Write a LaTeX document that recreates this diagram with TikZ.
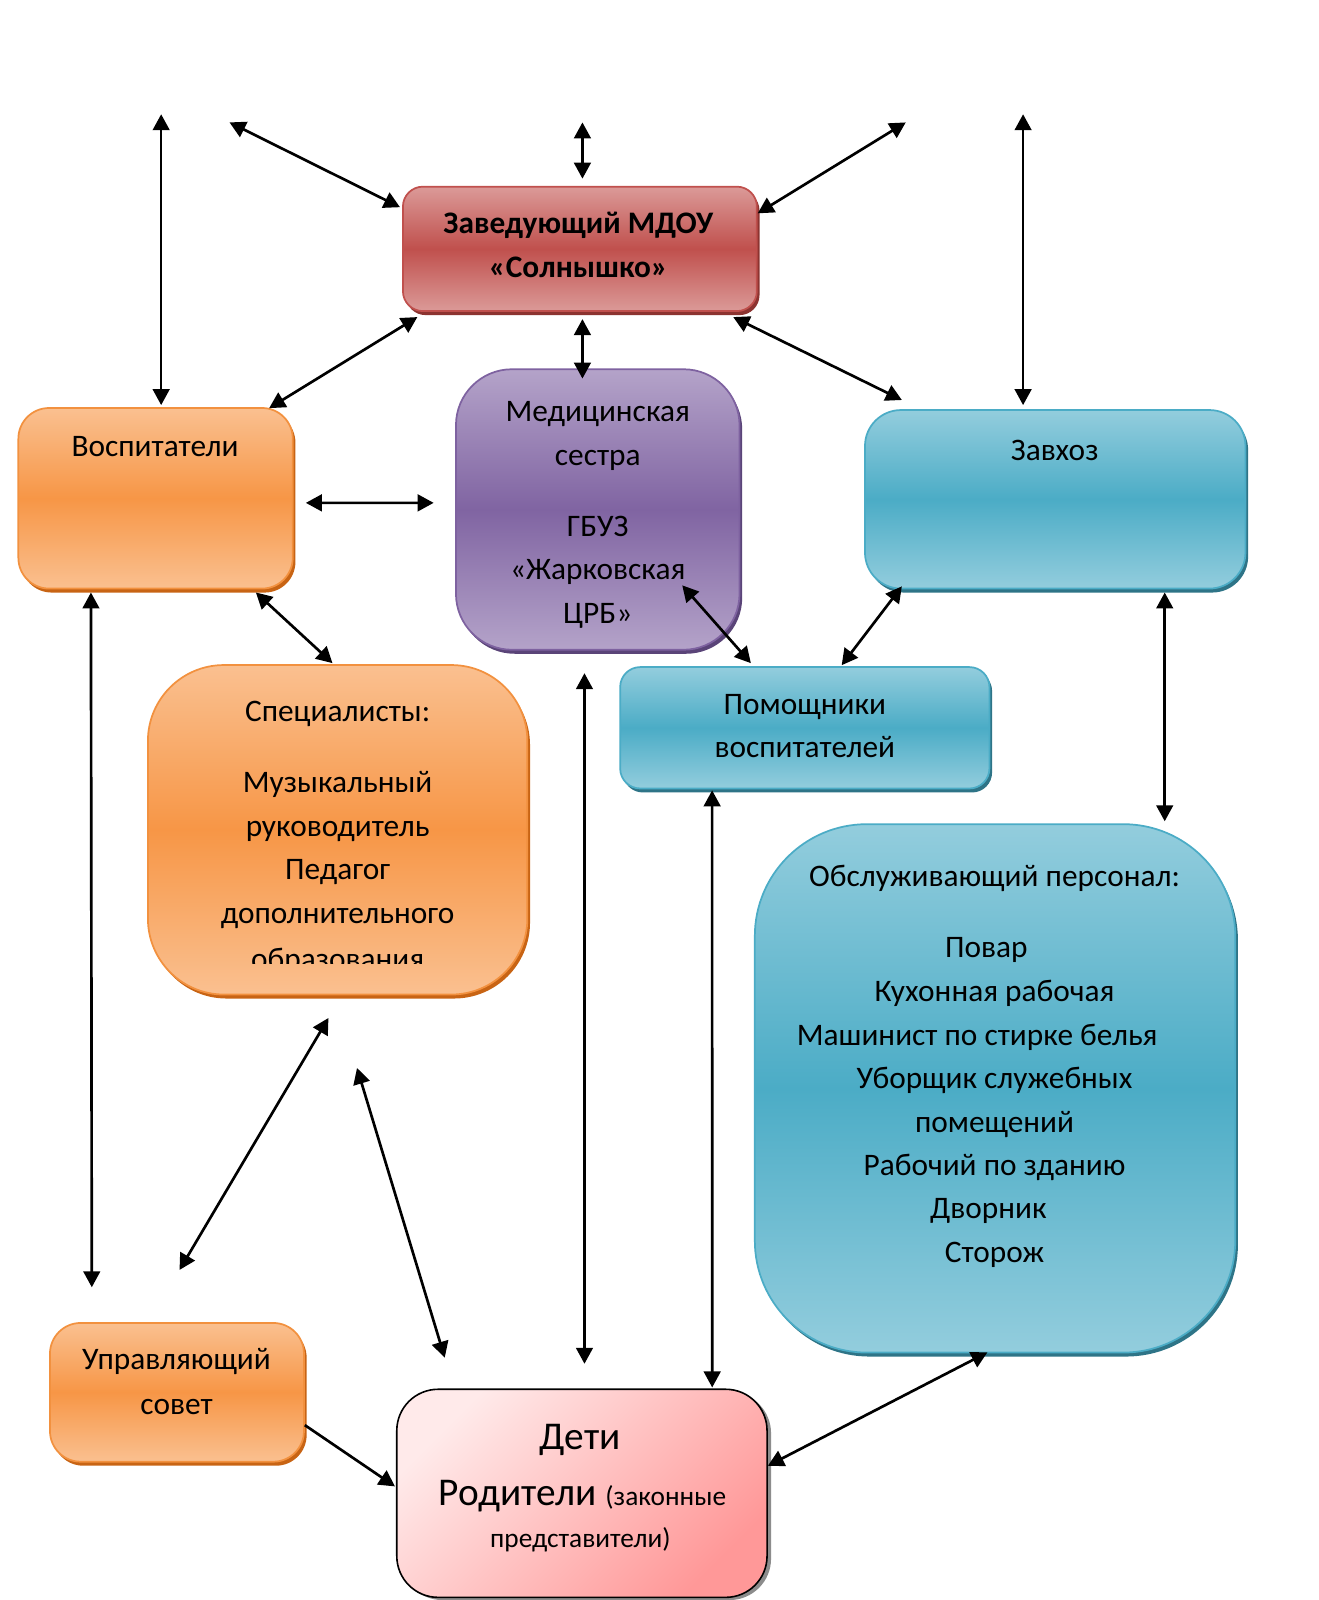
\documentclass[tikz,border=0pt]{standalone}
\usepackage{fontspec}
\setmainfont{Carlito}
\usetikzlibrary{arrows.meta,calc,shadows}
\definecolor{redl}{HTML}{DB9A98}
\definecolor{redm}{HTML}{C0504D}
\definecolor{redb}{HTML}{C0504D}
\definecolor{reds}{HTML}{8C3330}
\definecolor{orl}{HTML}{FAC090}
\definecolor{orm}{HTML}{F79646}
\definecolor{orb}{HTML}{F2913F}
\definecolor{ors}{HTML}{C86414}
\definecolor{purl}{HTML}{B4A3C9}
\definecolor{purm}{HTML}{8064A2}
\definecolor{purb}{HTML}{7E62A0}
\definecolor{purs}{HTML}{5A4478}
\definecolor{blul}{HTML}{93CDDD}
\definecolor{blum}{HTML}{4BACC6}
\definecolor{blub}{HTML}{4BACC6}
\definecolor{blus}{HTML}{2E7487}
\definecolor{detl}{HTML}{FFEAEA}
\definecolor{detd}{HTML}{FF9898}
\newcommand\pxu{0.765pt}
\begin{document}
\begin{tikzpicture}[x=0.765pt,y=-0.765pt,
  bx/.style={draw, line width=1.3pt, inner sep=0pt},
  redbox/.style={bx, draw=redb, top color=redl, bottom color=redl, middle color=redm,
    drop shadow={shadow xshift=2pt,shadow yshift=-3pt,fill=reds,opacity=1}},
  orbox/.style={bx, draw=orb, top color=orl, bottom color=orl, middle color=orm,
    drop shadow={shadow xshift=2pt,shadow yshift=-3pt,fill=ors,opacity=1}},
  purbox/.style={bx, draw=purb, top color=purl, bottom color=purl, middle color=purm,
    drop shadow={shadow xshift=2pt,shadow yshift=-3pt,fill=purs,opacity=1}},
  blubox/.style={bx, draw=blub, top color=blul, bottom color=blul, middle color=blum,
    drop shadow={shadow xshift=2pt,shadow yshift=-3pt,fill=blus,opacity=1}},
  detbox/.style={bx, draw=black, line width=1.2pt, top color=detl, bottom color=detd, shading angle=45,
    drop shadow={shadow xshift=3pt,shadow yshift=-2pt,fill=black!45,opacity=1}},
  txt/.style={font=\fontsize{23.5}{28}\selectfont, anchor=base, inner sep=0pt},
  btxt/.style={font=\fontsize{23.5}{28}\selectfont\bfseries, anchor=base, inner sep=0pt},
  arr/.style={line width=2pt, >={Triangle[length=12pt,width=12.5pt]}, <->},
  arr1/.style={line width=2pt, >={Triangle[length=12pt,width=12.5pt]}, ->}
]
\useasboundingbox (0,0) rectangle (1293.1,1568.6);
\fill[white] (0,0) rectangle (1293.1,1568.6);

% boxes
\node[redbox, rounded corners=15pt, minimum width=347*\pxu, minimum height=122*\pxu] (zav) at (568.5,244) {};
\node[orbox, rounded corners=23pt, minimum width=269*\pxu, minimum height=177*\pxu] (vos) at (152.5,488.5) {};
\node[purbox, rounded corners=42pt, minimum width=278*\pxu, minimum height=275*\pxu] (med) at (586,499.5) {};
\node[blubox, rounded corners=27pt, minimum width=373*\pxu, minimum height=175*\pxu] (zavh) at (1034.5,489.5) {};
\node[orbox, rounded corners=57pt, minimum width=372*\pxu, minimum height=323*\pxu] (spec) at (331,813.5) {};
\node[blubox, rounded corners=15pt, minimum width=362*\pxu, minimum height=119*\pxu] (pom) at (789,713.5) {};
\node[blubox, rounded corners=84pt, minimum width=471*\pxu, minimum height=518*\pxu] (obs) at (975.5,1067) {};
\node[orbox, rounded corners=23pt, minimum width=249*\pxu, minimum height=136*\pxu] (upr) at (173.5,1365) {};
\node[detbox, rounded corners=31pt, minimum width=363*\pxu, minimum height=204*\pxu] (det) at (570.5,1464) {};

% texts
\node[btxt] (zavt1) at (567,229) {Заведующий МДОУ};
\node[btxt] (zavt2) at (567,272) {«Солнышко»};
\node[txt] (vost) at (152,448) {Воспитатели};
\node[txt] (medt1) at (586,413) {Медицинская};
\node[txt] (medt2) at (586,456) {сестра};
\node[txt] (medt3) at (586,526) {ГБУЗ};
\node[txt] (medt4) at (586,568) {«Жарковская};
\node[txt] (medt5) at (586,611) {ЦРБ»};
\node[txt] (zavht) at (1034,451) {Завхоз};
\node[txt] (spt1) at (331,707) {Специалисты:};
\node[txt] (spt2) at (331,777) {Музыкальный};
\node[txt] (spt3) at (331,820) {руководитель};
\node[txt] (spt4) at (331,862) {Педагог};
\node[txt] (spt5) at (331,905) {дополнительного};
\begin{scope}
\clip (150,900) rectangle (510,945);
\node[txt] (spt6) at (331,950) {образования};
\end{scope}
\node[txt] (pomt1) at (789,700) {Помощники};
\node[txt] (pomt2) at (789,743) {воспитателей};
\node[txt] (obst1) at (975,869) {Обслуживающий персонал:};
\node[txt] (obst2) at (967,939) {Повар};
\node[txt] (obst3) at (975,982) {Кухонная рабочая};
\node[txt] (obst4) at (958,1025) {Машинист по стирке белья};
\node[txt] (obst5) at (975,1067) {Уборщик служебных};
\node[txt] (obst6) at (975,1110) {помещений};
\node[txt] (obst7) at (975,1152) {Рабочий по зданию};
\node[txt] (obst8) at (969,1195) {Дворник};
\node[txt] (obst9) at (975,1238) {Сторож};
\node[txt] (uprt1) at (173,1343) {Управляющий};
\node[txt] (uprt2) at (173,1387) {совет};
\node[txt, font=\fontsize{29.5}{34}\selectfont] (dett1) at (569,1421) {Дети};
\node[txt, font=\fontsize{29.5}{34}\selectfont] (dett2) at (571,1476) {Родители {\fontsize{20.5}{24}\selectfont(законные}};
\node[txt, font=\fontsize{20.5}{24}\selectfont] (dett3) at (569,1517) {представители)};

% free ends
\coordinate (c1) at (158,112);
\coordinate (c2) at (225,120);
\coordinate (c3) at (571,120);
\coordinate (c4) at (888,120);
\coordinate (c5) at (1003,112);
\coordinate (c11) at (90,1262);
\coordinate (c15a) at (573,660);
\coordinate (c15b) at (573,1337);
\coordinate (c17a) at (322,998);
\coordinate (c17b) at (176,1245);
\coordinate (c18a) at (350,1047);
\coordinate (c18b) at (436,1331);

% connectors
\draw[arr] (c1) -- ($(c1 |- vos.north)+(0,-2)$);
\draw[arr] (c2) -- ($(zav.north west)+(-2,21)$);
\draw[arr] (c3) -- ($(zav.north)+(2.5,-7)$);
\draw[arr] (c4) -- ($(zav.north east)+(0,27)$);
\draw[arr] (c5) -- ($(c5 |- zavh.north)+(0,-4)$);
\draw[arr] ($(zav.south west)+(15,5)$) -- ($(vos.north east)+(-24,1)$);
\draw[arr] ($(zav.south)+(2.5,7)$) -- ($(med.north)+(-15,10)$);
\draw[arr] ($(zav.south east)+(-24,5)$) -- ($(zavh.north west)+(37,-9)$);
\draw[arr] ($(vos.east)+(12,4.5)$) -- ($(med.west)+(-21,-6.5)$);
\draw[arr] ($(vos.south east)+(-37,3)$) -- ($(spec.north)+(-5,-1)$);
\draw[arr] ($(vos.south west)+(72,3)$) -- (c11);
\draw[arr] ($(med.south east)+(-57,-64)$) -- ($(pom.north west)+(129,-3)$);
\draw[arr] ($(zavh.south west)+(37,-3)$) -- ($(pom.north west)+(218,-1)$);
\draw[arr] ($(zavh.south east)+(-80,3)$) -- ($(obs.north east)+(-70,-2)$);
\draw[arr] (c15a) -- (c15b);
\draw[arr] ($(pom.south west)+(91,1)$) -- ($(det.north west)+(310,-1)$);
\draw[arr] (c17a) -- (c17b);
\draw[arr] (c18a) -- (c18b);
\draw[arr1] ($(upr.north east)+(0,101)$) -- ($(det.north west)+(-1,96)$);
\draw[arr] ($(obs.south)+(-7.5,-1)$) -- ($(det.east)+(0,-27)$);
\end{tikzpicture}
\end{document}
